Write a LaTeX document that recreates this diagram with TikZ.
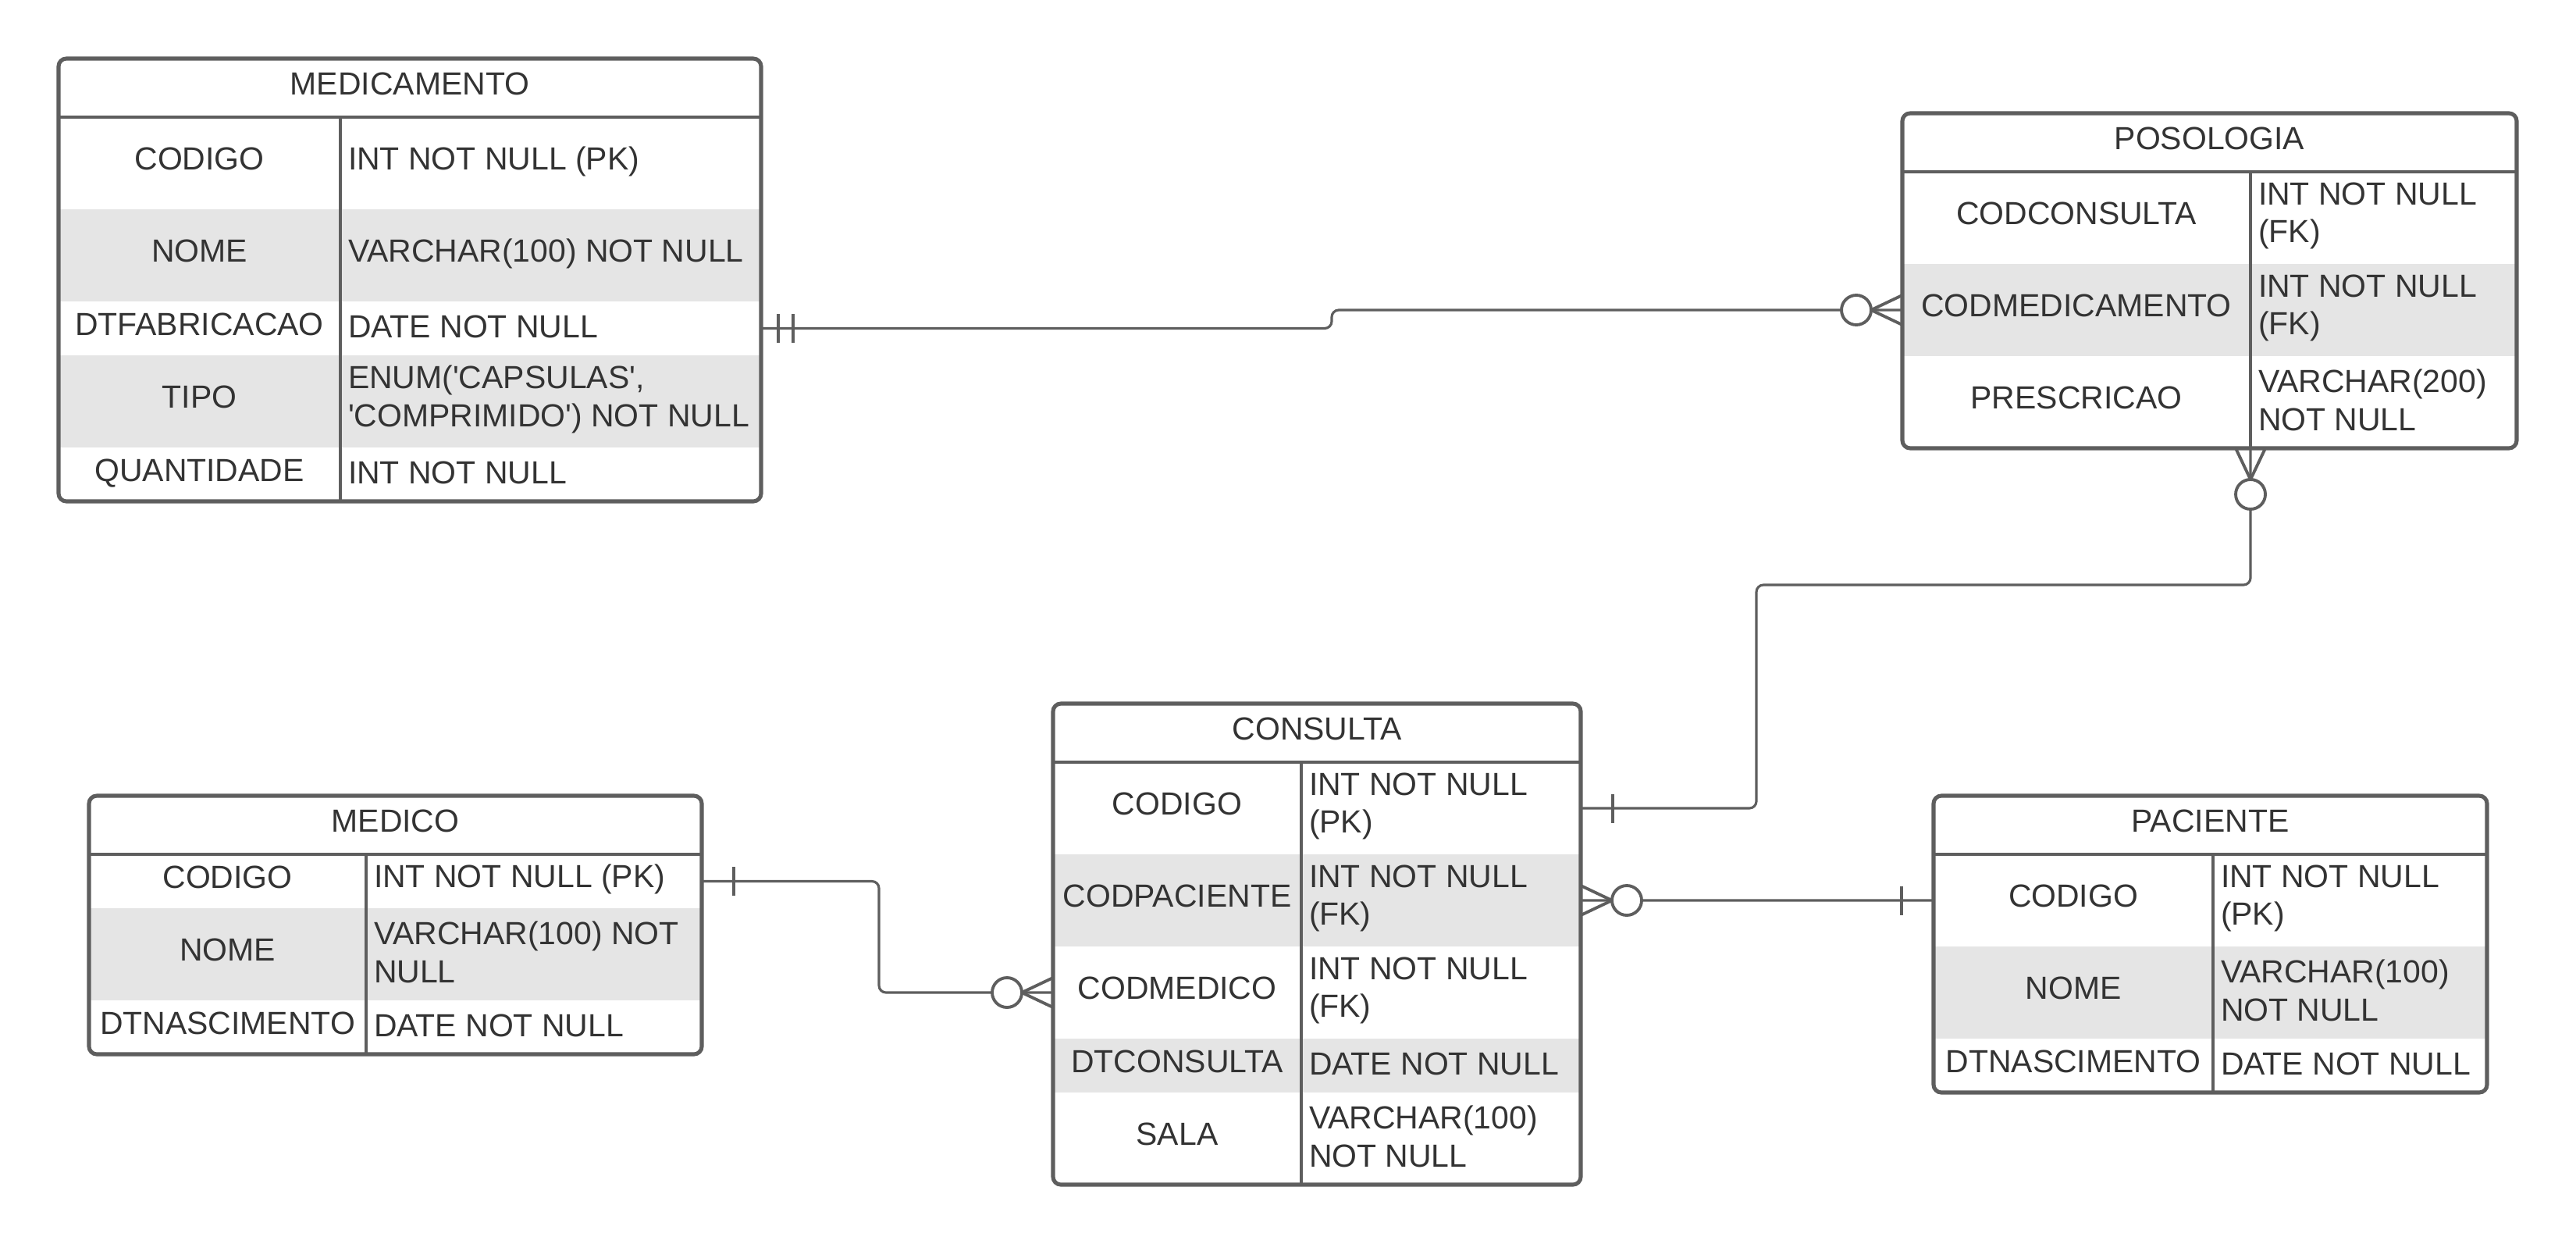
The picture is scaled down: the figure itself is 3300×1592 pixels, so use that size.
\documentclass[tikz,border=0pt]{standalone}
\usepackage{fontspec}
\setmainfont{Liberation Sans}
\usetikzlibrary{positioning,fit,backgrounds}
\definecolor{linegray}{HTML}{5E5E5E}
\definecolor{rowgray}{HTML}{E5E5E5}
\definecolor{textgray}{HTML}{333333}

\tikzset{
  cell/.style={inner sep=0pt, outer sep=0pt, text=textgray, font=\fontsize{11.65}{13.8}\selectfont},
  titlecell/.style={cell, minimum height=7.5mm, text height=8.4pt, text depth=3.4pt, anchor=north west},
  keycell/.style={cell, text height=8.4pt, text depth=3.4pt},
  tall/.style={minimum height=11.8mm},
  short/.style={minimum height=6.9mm},
  valcell/.style={cell, anchor=west, align=left, xshift=1mm, yshift=0.25mm},
  entity/.style={draw=linegray, line width=1.45pt, rounded corners=1mm, inner sep=0pt, outer sep=0pt},
  headline/.style={draw=linegray, line width=1.35pt},
  colline/.style={draw=linegray, line width=1.15pt},
  conn/.style={draw=linegray, line width=0.9pt, rounded corners=0.9mm},
  tickline/.style={draw=linegray, line width=1.1pt},
  crowzero/.pic={
    \draw[tickline] (0,1.9mm) -- (-4mm,0) -- (0,-1.9mm);
    \draw[tickline, fill=white] (-5.9mm,0) circle[radius=1.9mm];
  },
  barone/.pic={
    \draw[tickline] (-4.1mm,1.85mm) -- (-4.1mm,-1.85mm);
  },
  bartwo/.pic={
    \draw[tickline] (-2.2mm,1.85mm) -- (-2.2mm,-1.85mm) (-4.1mm,1.85mm) -- (-4.1mm,-1.85mm);
  }
}

\begin{document}
\begin{tikzpicture}[x=0.1mm,y=-0.1mm]
  \useasboundingbox (0,0) rectangle (3300,1592);

  % medicamento
  \node[titlecell, minimum width=90mm] (med-title) at (75,75) {MEDICAMENTO};
  \node[keycell, tall, minimum width=36.1mm, anchor=north west] (med-codigo) at (med-title.south west) {CODIGO};
  \node[keycell, tall, minimum width=36.1mm, below=0pt of med-codigo] (med-nome) {NOME};
  \node[keycell, short, minimum width=36.1mm, below=0pt of med-nome] (med-dtfab) {DTFABRICACAO};
  \node[keycell, tall, minimum width=36.1mm, below=0pt of med-dtfab] (med-tipo) {TIPO};
  \node[keycell, short, minimum width=36.1mm, below=0pt of med-tipo] (med-qtd) {QUANTIDADE};
  \node[valcell] (med-codigo-v) at (med-codigo.east) {INT NOT NULL (PK)};
  \node[valcell] (med-nome-v) at (med-nome.east) {VARCHAR(100) NOT NULL};
  \node[valcell] (med-dtfab-v) at (med-dtfab.east) {DATE NOT NULL};
  \node[valcell] (med-tipo-v) at (med-tipo.east) {ENUM(\textquotesingle CAPSULAS\textquotesingle,\\\textquotesingle COMPRIMIDO\textquotesingle) NOT NULL};
  \node[valcell] (med-qtd-v) at (med-qtd.east) {INT NOT NULL};
  \node[entity, fit=(med-title)(med-qtd)] (medicamento) {};
  \draw[headline] (med-title.south -| medicamento.west) -- (med-title.south -| medicamento.east);
  \draw[colline] (med-codigo.north east) -- (med-qtd.south east);
  \begin{scope}[on background layer]
    \fill[rowgray] (med-nome.north west) rectangle (med-nome.south -| medicamento.east);
    \fill[rowgray] (med-tipo.north west) rectangle (med-tipo.south -| medicamento.east);
  \end{scope}

  % posologia
  \node[titlecell, minimum width=78.7mm] (pos-title) at (2437,145) {POSOLOGIA};
  \node[keycell, tall, minimum width=44.6mm, anchor=north west] (pos-codcons) at (pos-title.south west) {CODCONSULTA};
  \node[keycell, tall, minimum width=44.6mm, below=0pt of pos-codcons] (pos-codmed) {CODMEDICAMENTO};
  \node[keycell, tall, minimum width=44.6mm, below=0pt of pos-codmed] (pos-presc) {PRESCRICAO};
  \node[valcell] (pos-codcons-v) at (pos-codcons.east) {INT NOT NULL\\(FK)};
  \node[valcell] (pos-codmed-v) at (pos-codmed.east) {INT NOT NULL\\(FK)};
  \node[valcell] (pos-presc-v) at (pos-presc.east) {VARCHAR(200)\\NOT NULL};
  \node[entity, fit=(pos-title)(pos-presc)] (posologia) {};
  \draw[headline] (pos-title.south -| posologia.west) -- (pos-title.south -| posologia.east);
  \draw[colline] (pos-codcons.north east) -- (pos-presc.south east);
  \begin{scope}[on background layer]
    \fill[rowgray] (pos-codmed.north west) rectangle (pos-codmed.south -| posologia.east);
  \end{scope}

  % consulta
  \node[titlecell, minimum width=67.6mm] (con-title) at (1349,901) {CONSULTA};
  \node[keycell, tall, minimum width=31.8mm, anchor=north west] (con-codigo) at (con-title.south west) {CODIGO};
  \node[keycell, tall, minimum width=31.8mm, below=0pt of con-codigo] (con-codpac) {CODPACIENTE};
  \node[keycell, tall, minimum width=31.8mm, below=0pt of con-codpac] (con-codmed) {CODMEDICO};
  \node[keycell, short, minimum width=31.8mm, below=0pt of con-codmed] (con-dtcons) {DTCONSULTA};
  \node[keycell, tall, minimum width=31.8mm, below=0pt of con-dtcons] (con-sala) {SALA};
  \node[valcell] (con-codigo-v) at (con-codigo.east) {INT NOT NULL\\(PK)};
  \node[valcell] (con-codpac-v) at (con-codpac.east) {INT NOT NULL\\(FK)};
  \node[valcell] (con-codmed-v) at (con-codmed.east) {INT NOT NULL\\(FK)};
  \node[valcell] (con-dtcons-v) at (con-dtcons.east) {DATE NOT NULL};
  \node[valcell] (con-sala-v) at (con-sala.east) {VARCHAR(100)\\NOT NULL};
  \node[entity, fit=(con-title)(con-sala)] (consulta) {};
  \draw[headline] (con-title.south -| consulta.west) -- (con-title.south -| consulta.east);
  \draw[colline] (con-codigo.north east) -- (con-sala.south east);
  \begin{scope}[on background layer]
    \fill[rowgray] (con-codpac.north west) rectangle (con-codpac.south -| consulta.east);
    \fill[rowgray] (con-dtcons.north west) rectangle (con-dtcons.south -| consulta.east);
  \end{scope}

  % medico
  \node[titlecell, minimum width=78.5mm] (mdc-title) at (114,1019) {MEDICO};
  \node[keycell, short, minimum width=35.5mm, anchor=north west] (mdc-codigo) at (mdc-title.south west) {CODIGO};
  \node[keycell, tall, minimum width=35.5mm, below=0pt of mdc-codigo] (mdc-nome) {NOME};
  \node[keycell, short, minimum width=35.5mm, below=0pt of mdc-nome] (mdc-dtnasc) {DTNASCIMENTO};
  \node[valcell] (mdc-codigo-v) at (mdc-codigo.east) {INT NOT NULL (PK)};
  \node[valcell] (mdc-nome-v) at (mdc-nome.east) {VARCHAR(100) NOT\\NULL};
  \node[valcell] (mdc-dtnasc-v) at (mdc-dtnasc.east) {DATE NOT NULL};
  \node[entity, fit=(mdc-title)(mdc-dtnasc)] (medico) {};
  \draw[headline] (mdc-title.south -| medico.west) -- (mdc-title.south -| medico.east);
  \draw[colline] (mdc-codigo.north east) -- (mdc-dtnasc.south east);
  \begin{scope}[on background layer]
    \fill[rowgray] (mdc-nome.north west) rectangle (mdc-nome.south -| medico.east);
  \end{scope}

  % paciente
  \node[titlecell, minimum width=70.9mm] (pac-title) at (2477,1019) {PACIENTE};
  \node[keycell, tall, minimum width=35.8mm, anchor=north west] (pac-codigo) at (pac-title.south west) {CODIGO};
  \node[keycell, tall, minimum width=35.8mm, below=0pt of pac-codigo] (pac-nome) {NOME};
  \node[keycell, short, minimum width=35.8mm, below=0pt of pac-nome] (pac-dtnasc) {DTNASCIMENTO};
  \node[valcell] (pac-codigo-v) at (pac-codigo.east) {INT NOT NULL\\(PK)};
  \node[valcell] (pac-nome-v) at (pac-nome.east) {VARCHAR(100)\\NOT NULL};
  \node[valcell] (pac-dtnasc-v) at (pac-dtnasc.east) {DATE NOT NULL};
  \node[entity, fit=(pac-title)(pac-dtnasc)] (paciente) {};
  \draw[headline] (pac-title.south -| paciente.west) -- (pac-title.south -| paciente.east);
  \draw[colline] (pac-codigo.north east) -- (pac-dtnasc.south east);
  \begin{scope}[on background layer]
    \fill[rowgray] (pac-nome.north west) rectangle (pac-nome.south -| paciente.east);
  \end{scope}

  % relationships
  \draw[conn] (medicamento.east |- med-dtfab) -| (1706,397) -- (posologia.west |- pos-codmed);
  \draw[conn] (pos-presc.south east) |- (2250,749) |- (consulta.east |- con-codigo);
  \draw[conn] (medico.east |- mdc-codigo) -| (1126,1271) -- (consulta.west |- con-codmed);
  \draw[conn] (consulta.east |- con-codpac) -- (paciente.west |- pac-codigo);

  % cardinality marks
  \pic[rotate=180] at (medicamento.east |- med-dtfab) {bartwo};
  \pic at (posologia.west |- pos-codmed) {crowzero};
  \pic[rotate=90] at (pos-presc.south east) {crowzero};
  \pic[rotate=180] at (consulta.east |- con-codigo) {barone};
  \pic[rotate=180] at (medico.east |- mdc-codigo) {barone};
  \pic at (consulta.west |- con-codmed) {crowzero};
  \pic[rotate=180] at (consulta.east |- con-codpac) {crowzero};
  \pic at (paciente.west |- pac-codigo) {barone};
\end{tikzpicture}
\end{document}
